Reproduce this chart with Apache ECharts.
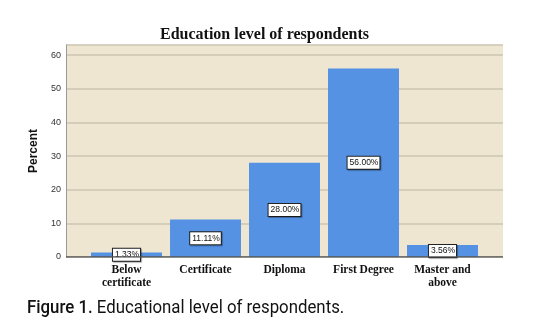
<!DOCTYPE html>
<html><head><meta charset="utf-8">
<style>html,body{margin:0;padding:0;background:#fff}#c{width:547px;height:327px}</style>
<script src="https://cdn.jsdelivr.net/npm/echarts@6/dist/echarts.min.js"></script>
</head><body><div id="c"></div>
<script>
const categories = ['Below\ncertificate', 'Certificate', 'Diploma', 'First Degree', 'Master and\nabove'];
const percentValues = [1.33, 11.11, 28.00, 56.00, 3.56];
const yTicks = [0, 10, 20, 30, 40, 50, 60];

const chart = echarts.init(document.getElementById('c'));
chart.setOption({
  animation: false,
  backgroundColor: '#ffffff',
  title: [{
    text: 'Education level of respondents',
    left: 155, top: 22,
    textStyle: {fontFamily: 'Liberation Serif', fontWeight: 'bold', fontSize: 16, color: '#111'}
  }],
  graphic: [{
    type: 'text', left: 27, top: 299, scaleX: 0.885,
    style: {
      text: '{b|Figure 1.} Educational level of respondents.',
      rich: {b: {fontFamily: 'Roboto', fontWeight: 500, fontSize: 19, fill: '#111'}},
      fontFamily: 'Roboto', fontSize: 19, fill: '#111'
    }
  }],
  grid: [
    {left: 66, right: 44, top: 45, bottom: 70, show: true, backgroundColor: '#eee6d1', borderWidth: 0},
    {left: 87, right: 65, top: 45, bottom: 70}
  ],
  xAxis: [
    {type: 'value', gridIndex: 0, min: 0, max: 1, show: false},
    {type: 'category', gridIndex: 1, data: categories,
     axisLine: {show: false}, axisTick: {show: false},
     axisLabel: {fontFamily: 'Liberation Serif', fontWeight: 'bold', fontSize: 11.5, color: '#111', lineHeight: 13, margin: 7, interval: 0}}
  ],
  yAxis: [
    {type: 'value', gridIndex: 0, min: 0, max: 63, interval: 10,
     name: 'Percent', nameLocation: 'middle', nameGap: 23, nameRotate: 90,
     nameTextStyle: {fontFamily: 'Liberation Sans', fontWeight: 'bold', fontSize: 12, color: '#111'},
     axisLine: {show: true, lineStyle: {color: '#9a9a9a', width: 1}},
     axisTick: {show: false},
     axisLabel: {fontFamily: 'Liberation Sans', fontSize: 9, color: '#333', margin: 5,
       formatter: v => yTicks.includes(v) ? String(v) : ''},
     splitLine: {show: true, lineStyle: {color: '#cbc4b2', width: 1.5}}},
    {type: 'value', gridIndex: 1, min: 0, max: 63, interval: 10, show: false, splitLine: {show: false}}
  ],
  series: [
    {type: 'line', xAxisIndex: 0, yAxisIndex: 0, data: [[0, 0], [1, 0]], symbol: 'none', silent: true,
     lineStyle: {color: '#555', width: 1.5}, z: 5},
    {type: 'bar', xAxisIndex: 1, yAxisIndex: 1, data: percentValues, barWidth: 71,
     itemStyle: {color: '#5592e4'},
     label: {show: true, position: 'inside', formatter: p => p.value.toFixed(2) + '%',
       fontFamily: 'Liberation Sans', fontSize: 8.5, color: '#111',
       backgroundColor: '#fff', borderColor: '#222', borderWidth: 1,
       padding: [2, 1, 1, 2], shadowColor: 'rgba(0,0,0,0.3)', shadowOffsetX: 1, shadowOffsetY: 1, shadowBlur: 1}, z: 3}
  ]
});
</script></body></html>
